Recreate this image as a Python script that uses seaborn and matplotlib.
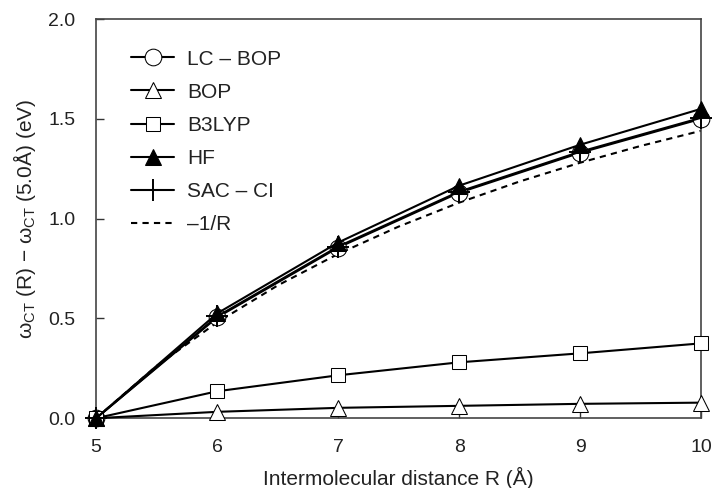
import matplotlib
matplotlib.use("Agg")
import matplotlib.pyplot as plt
import seaborn as sns
import pandas as pd

R = [5, 6, 7, 8, 9, 10]
lc_bop = [0.0, 0.505, 0.855, 1.13, 1.33, 1.50]
bop = [0.0, 0.032, 0.052, 0.062, 0.072, 0.078]
b3lyp = [0.0, 0.135, 0.215, 0.28, 0.325, 0.375]
hf = [0.0, 0.525, 0.88, 1.165, 1.37, 1.55]
sac_ci = [0.0, 0.51, 0.86, 1.135, 1.335, 1.505]

R_coul = [5.0, 5.5, 6.0, 6.5, 7.0, 7.5, 8.0, 8.5, 9.0, 9.5, 10.0]
inv_r = [0.0, 0.262, 0.48, 0.665, 0.823, 0.96, 1.08, 1.186, 1.28, 1.364, 1.44]

x_ticks = [5, 6, 7, 8, 9, 10]
y_ticks = [0.0, 0.5, 1.0, 1.5, 2.0]

sns.set_theme(style="white")
plt.rcParams['font.family'] = ['Liberation Sans', 'DejaVu Sans']
plt.rcParams['mathtext.fontset'] = 'custom'
plt.rcParams['mathtext.rm'] = 'Liberation Sans'
plt.rcParams['mathtext.it'] = 'Liberation Sans:italic'

fig = plt.figure(figsize=(7.12, 4.88), dpi=100)
ax = fig.add_axes([0.135, 0.143, 0.8496, 0.818])

series = [
    ("LC \u2013 BOP", lc_bop, dict(marker='o', mfc='white', ms=12)),
    ("BOP", bop, dict(marker='^', mfc='white', ms=12)),
    ("B3LYP", b3lyp, dict(marker='s', mfc='white', ms=10)),
    ("HF", hf, dict(marker='^', mfc='black', ms=12)),
    ("SAC \u2013 CI", sac_ci, dict(marker='+', ms=16, mew=1.4)),
]
for name, vals, kw in series:
    df = pd.DataFrame({"R": R, "v": vals})
    sns.lineplot(data=df, x="R", y="v", ax=ax, color='black', lw=1.5,
                 mec='black', label=name, zorder=3, clip_on=False, **kw)

dfc = pd.DataFrame({"R": R_coul, "v": inv_r})
sns.lineplot(data=dfc, x="R", y="v", ax=ax, color='black', lw=1.5,
             linestyle=(0, (3, 2.5)), label="\u20131/R", zorder=2)

ax.set_xlim(5, 10)
ax.set_ylim(0, 2.0)
ax.set_xticks(x_ticks)
ax.set_yticks(y_ticks)
ax.set_xticklabels([str(t) for t in x_ticks])
ax.set_yticklabels([f"{t:.1f}" for t in y_ticks])
ax.tick_params(direction='in', length=6, width=1, colors='#333333',
               labelcolor='#222222', labelsize=14, left=True, bottom=True, pad=15)
for s in ax.spines.values():
    s.set_color('#444444')
    s.set_linewidth(1.2)

ax.set_xlabel("Intermolecular distance R (\u00c5)", fontsize=15, color='#222222', labelpad=8)
ax.set_ylabel("\u03c9$_{\\rm CT}$ (R) $-$ \u03c9$_{\\rm CT}$ (5.0\u00c5) (eV)",
              fontsize=15, color='#222222', labelpad=7)

leg = ax.legend(loc='upper left', frameon=False, fontsize=15, handlelength=2.1,
                labelspacing=0.68, handletextpad=0.62, bbox_to_anchor=(0.033, 0.96),
                borderaxespad=0.3)
for t in leg.get_texts():
    t.set_color('#222222')

fig.savefig("out.png", dpi=100)
